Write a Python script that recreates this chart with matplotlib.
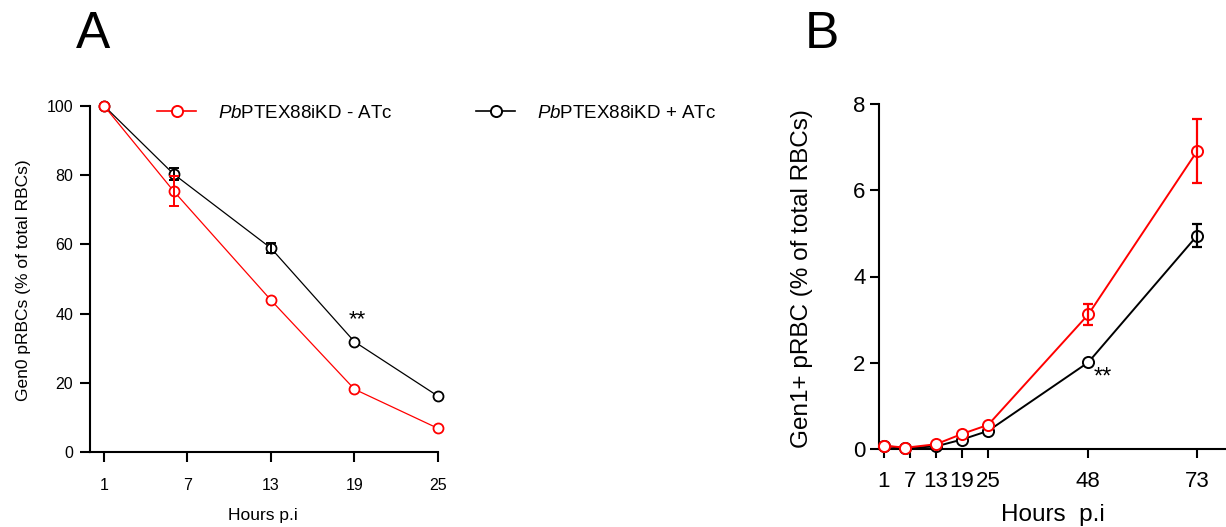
import matplotlib
matplotlib.use("Agg")
import matplotlib.pyplot as plt
from matplotlib.lines import Line2D
import numpy as np

plt.rcParams['font.family'] = ['Liberation Sans', 'DejaVu Sans']
plt.rcParams['mathtext.fontset'] = 'custom'
plt.rcParams['mathtext.rm'] = 'Liberation Sans'
plt.rcParams['mathtext.it'] = 'Liberation Sans:italic'

# ---- Panel A: Gen0 pRBCs over time ----
hours_a = [1, 6, 13, 19, 25]
gen0_minus = [100, 75.4, 43.9, 18.2, 6.9]
gen0_minus_err = [0, 4.3, 0, 0, 0]
gen0_plus = [100, 80.3, 58.9, 31.9, 16.2]
gen0_plus_err = [0, 1.7, 1.5, 0, 0]
ticks_a = [1, 7, 13, 19, 25]
yticks_a = [0, 20, 40, 60, 80, 100]

# ---- Panel B: Gen1+ pRBC over time ----
hours_b = [1, 6, 13, 19, 25, 48, 73]
gen1_minus = [0.08, 0.03, 0.11, 0.35, 0.56, 3.12, 6.91]
gen1_minus_err = [0, 0, 0, 0, 0, 0.25, 0.74]
gen1_plus = [0.07, 0.02, 0.06, 0.22, 0.42, 2.01, 4.95]
gen1_plus_err = [0, 0, 0, 0, 0, 0, 0.27]
ticks_b = [1, 7, 13, 19, 25, 48, 73]
yticks_b = [0, 2, 4, 6, 8]

label_minus = r"$\it{Pb}$PTEX88iKD - ATc"
label_plus = r"$\it{Pb}$PTEX88iKD + ATc"
RED = '#FF0000'
BLACK = '#000000'

W, H = 1226, 527
fig = plt.figure(figsize=(W / 100, H / 100), dpi=100)


def px_axes(left, bottom, right, top):
    return fig.add_axes([left / W, 1 - bottom / H, (right - left) / W, (bottom - top) / H])


def style_axes(ax, lw, ticklen, xpad, ypad, fs):
    for s in ('top', 'right'):
        ax.spines[s].set_visible(False)
    for s in ('left', 'bottom'):
        ax.spines[s].set_linewidth(lw)
    ax.tick_params(axis='both', direction='out', length=ticklen, width=lw, labelsize=fs)
    ax.tick_params(axis='x', pad=xpad)
    ax.tick_params(axis='y', pad=ypad)


def draw_series(ax, x, y, err, color, lw, ms, mew, capsize, elw, z):
    x = np.asarray(x, float)
    y = np.asarray(y, float)
    err = np.asarray(err, float)
    ax.plot(x, y, color=color, lw=lw, marker='o', ms=ms, mew=mew,
            mfc='white', mec=color, zorder=z, clip_on=False)
    m = err > 0
    ax.errorbar(x[m], y[m], yerr=err[m], fmt='none', ecolor=color,
                elinewidth=elw, capsize=capsize, capthick=elw, zorder=z + 0.5,
                clip_on=False)


# Panel A
axA = px_axes(90, 452.3, 438, 105.7)
axA.set_xlim(0, 25)
axA.set_ylim(0, 100)
draw_series(axA, hours_a, gen0_plus, gen0_plus_err, BLACK, 0.9, 7.2, 1.3, 3.5, 1.4, 3)
draw_series(axA, hours_a, gen0_minus, gen0_minus_err, RED, 0.9, 7.2, 1.3, 3.5, 1.4, 4)
axA.set_xticks(ticks_a)
axA.set_yticks(yticks_a)
style_axes(axA, 1.5, 7, 11.5, 5, 11.5)
axA.set_xlabel("Hours p.i", fontsize=12.5)
axA.set_ylabel("Gen0 pRBCs (% of total RBCs)", fontsize=12.5)
axA.xaxis.set_label_coords(0.497, -0.162)
axA.yaxis.set_label_coords(-0.17, 0.497)
axA.text(19.2, 38.2, "**", ha='center', va='center', fontsize=16)

# Panel B
axB = px_axes(879.3, 449, 1225.5, 104)
axB.set_xlim(0, 79.5)
axB.set_ylim(0, 8)
draw_series(axB, hours_b, gen1_plus, gen1_plus_err, BLACK, 1.4, 8, 1.4, 3.7, 1.6, 3)
draw_series(axB, hours_b, gen1_minus, gen1_minus_err, RED, 1.4, 8, 1.4, 3.7, 1.6, 4)
axB.set_xticks(ticks_b)
axB.set_yticks(yticks_b)
style_axes(axB, 1.5, 6.5, 9.5, 3.5, 16)
axB.set_xlabel("Hours  p.i", fontsize=17.5)
axB.set_ylabel("Gen1+ pRBC (% of total RBCs)", fontsize=17.5)
axB.xaxis.set_label_coords(0.5, -0.16)
axB.yaxis.set_label_coords(-0.192, 0.494)
axB.text(51.4, 1.65, "**", ha='center', va='center', fontsize=17)

# Legend entries
h_minus = Line2D([], [], color=RED, lw=1.2, marker='o', ms=8, mfc='white', mec=RED, mew=1.4)
h_plus = Line2D([], [], color=BLACK, lw=1.2, marker='o', ms=8, mfc='white', mec=BLACK, mew=1.4)
for h, lab, x0 in ((h_minus, label_minus, 157), (h_plus, label_plus, 476)):
    fig.legend(handles=[h], labels=[lab], loc='center left',
               bbox_to_anchor=(x0 / W, 1 - 113 / H), frameon=False,
               borderpad=0, borderaxespad=0, handlelength=2.1,
               handletextpad=1.15, fontsize=13.5)

# Panel letters
fig.text(93 / W, 1 - 35 / H, "A", ha='center', va='center', fontsize=37)
fig.text(822 / W, 1 - 35 / H, "B", ha='center', va='center', fontsize=37)

fig.savefig("out.png", dpi=100)
